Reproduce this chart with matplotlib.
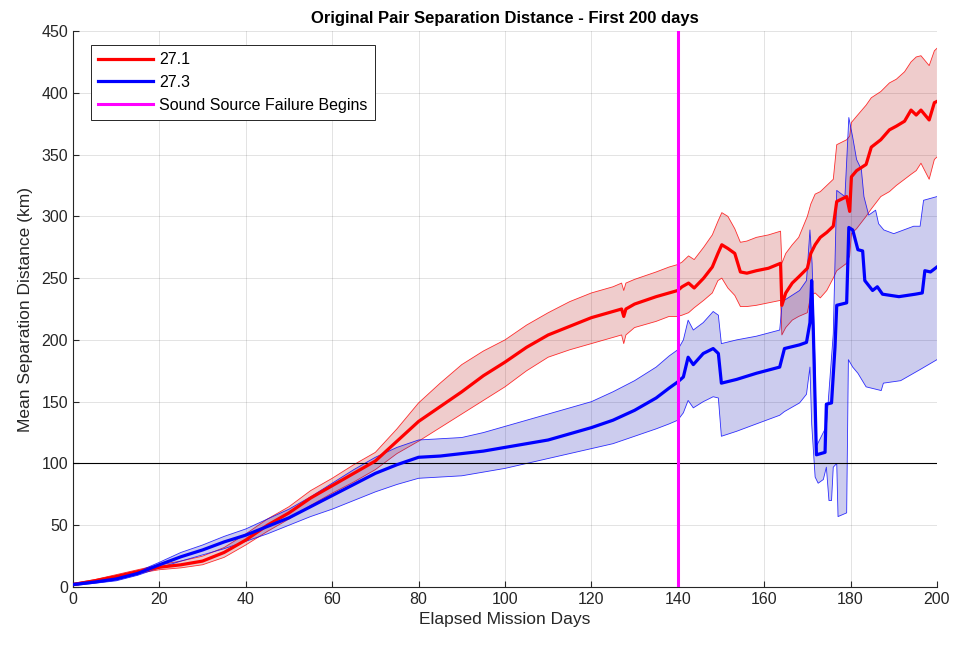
import numpy as np
import matplotlib.pyplot as plt

plt.rcParams['font.family'] = ['Liberation Sans', 'DejaVu Sans']

# float group 27.1: mean separation and spread envelope (km)
red_day = [0, 5, 10, 15, 20, 25, 30, 35, 40, 45, 50, 55, 60, 65, 70, 75, 80, 85, 90, 95,
           100, 105, 110, 115, 120, 125, 127, 127.5, 128, 130, 135, 138, 140, 141, 142.5,
           143.8, 146, 148, 149.3, 150.2, 151.6, 153.2, 154.5, 156, 158.2, 161, 163.8,
           164.1, 165, 166.5, 168, 170, 170.8, 171.8, 173, 174.5, 176, 176.8, 179.1, 179.8,
           180.2, 181.4, 183.6, 184.8, 187, 189, 190.6, 192.5, 194, 195.2, 196.3, 198.2,
           199.4, 200]
red_mean = [2, 5, 8.5, 12.5, 16, 18, 21, 28, 38, 50, 60, 72, 82, 92, 102, 118, 134, 146, 158, 171,
            182, 194, 204, 211, 218, 223, 225, 219, 225, 229, 235, 238, 240, 243, 246,
            242, 250, 259, 270, 277, 274, 270, 255, 254, 256, 258, 262,
            228, 238, 246, 251, 258, 270, 277, 283, 287, 292, 312, 316, 304,
            332, 337, 342, 356, 362, 370, 373, 377, 386, 382, 386, 378,
            392, 393]
red_lo = [1, 4, 7, 11, 14, 15.5, 18, 24, 34, 45, 55, 66, 76, 85, 95, 108, 118, 129, 140, 151,
          162, 175, 186, 192, 197, 202, 204, 197, 204, 210, 215, 219, 219, 220, 222,
          226, 232, 238, 248, 250, 242, 236, 227, 227, 228, 230, 232,
          204, 210, 216, 219, 222, 236, 238, 234, 240, 250, 256, 262, 268,
          286, 290, 300, 306, 316, 320, 325, 330, 334, 337, 343, 330,
          346, 348]
red_hi = [3, 6, 10, 14, 18, 21, 25, 32, 43, 55, 65, 78, 88, 99, 109, 128, 149, 165, 180, 191,
          200, 212, 222, 231, 238, 243, 246, 240, 246, 249, 255, 259, 261, 263, 268,
          265, 275, 285, 296, 303, 300, 290, 279, 280, 283, 285, 288,
          262, 270, 277, 283, 300, 310, 318, 320, 325, 330, 358, 362, 365,
          376, 381, 390, 396, 401, 408, 411, 417, 425, 429, 430, 422,
          434, 436]

# float group 27.3
blue_day = [0, 5, 10, 15, 20, 25, 30, 35, 40, 45, 50, 55, 60, 65, 70, 75, 80, 85, 90, 95,
            100, 105, 110, 115, 120, 125, 130, 135, 138, 140, 141.3, 142.4, 143.6, 145.9,
            148.2, 149.4, 150.1, 153.6, 158.2, 163.6, 164.7, 168.2, 169.8, 170.6, 171,
            171.4, 172.1, 174.1, 174.4, 175.6, 176.4, 176.8, 179.1, 179.6, 180.5, 181.7,
            182.8, 183.3, 185.1, 186.2, 187.4, 191.2, 195, 196.6, 197.2, 198.5, 200]
blue_mean = [2, 4, 6.5, 11, 18, 24.5, 30, 36.5, 42, 49, 56, 65, 74, 83, 92, 99, 105, 106, 108, 110,
             113, 116, 119, 124, 129, 135, 143, 153, 161, 166, 170, 186, 180, 189,
             193, 189, 165, 168, 173, 178, 193, 196, 198, 214, 248,
             205, 107, 109, 148, 149, 194, 228, 230, 291, 289, 273,
             272, 248, 240, 243, 237, 235, 237, 238, 256, 255, 259]

blue_lo_day = [0, 5, 10, 15, 20, 25, 30, 35, 40, 45, 50, 55, 60, 65, 70, 75, 80, 85, 90, 95,
               100, 105, 110, 115, 120, 125, 130, 135, 138, 140, 141.3, 142.4, 143.6, 145.9,
               148.2, 149.4, 150.1, 153.6, 158.2, 163.6, 164.7, 168.2, 169.8, 170.6, 171,
               171.8, 172.5, 173.7, 174.4, 175, 175.6, 176, 176.8, 177.1, 179.1, 179.5,
               180.5, 181.7, 183.6, 187.1, 187.6, 191.6, 196.1, 200]
blue_lo = [1, 3, 5, 9.5, 15.5, 21, 26, 31, 37, 43, 50, 57, 63, 70, 77, 83, 88, 89, 90, 93,
           96, 100, 104, 108, 112, 116, 122, 128, 132, 135, 141, 151, 145, 150,
           154, 153, 122, 126, 132, 139, 142, 149, 156, 178, 132,
           89, 84, 87, 97, 70, 70, 97, 100, 57, 60, 184,
           178, 173, 162, 159, 165, 167, 176, 184]

blue_hi_day = [0, 5, 10, 15, 20, 25, 30, 35, 40, 45, 50, 55, 60, 65, 70, 75, 80, 85, 90, 95,
               100, 105, 110, 115, 120, 125, 130, 135, 138, 140, 141.3, 142.4, 143.6, 145.9,
               148.2, 149.4, 150.1, 153.6, 158.2, 163.6, 164.2, 168.2, 169.8, 170.6, 171.1,
               171.8, 172.1, 174.4, 176, 176.8, 178.7, 179.6, 180.5, 181.4, 182.5, 183.1,
               184.2, 185.8, 186.5, 187.7, 190, 194.6, 196.1, 196.9, 200]
blue_hi = [3, 5, 8, 12.5, 20, 28, 34, 41, 47, 55, 63, 73, 84, 95, 105, 113, 119, 120, 121, 125,
           130, 135, 140, 145, 150, 158, 167, 178, 187, 192, 200, 216, 208, 214,
           223, 220, 197, 200, 203, 208, 231, 240, 248, 289, 262,
           178, 114, 130, 205, 321, 316, 380, 364, 346, 338, 316,
           301, 305, 294, 289, 286, 292, 292, 313, 316]

failure_day = 140
threshold_km = 100

fig = plt.figure(figsize=(9.55, 6.46), dpi=100)
ax = fig.add_axes([0.0764, 0.0913, 0.9047, 0.8607])

# spread envelopes, drawn as closed polygons (upper edge out, lower edge back)
ax.fill(np.r_[red_day, red_day[::-1]], np.r_[red_hi, red_lo[::-1]],
        color=(0.72, 0.1, 0.1), alpha=0.22, lw=0, zorder=2)
ax.plot(red_day, red_hi, color='red', lw=0.6, alpha=0.8, zorder=2)
ax.plot(red_day, red_lo, color='red', lw=0.6, alpha=0.8, zorder=2)

ax.fill(np.r_[blue_hi_day, blue_lo_day[::-1]], np.r_[blue_hi, blue_lo[::-1]],
        color=(0.1, 0.1, 0.7), alpha=0.22, lw=0, zorder=2)
ax.plot(blue_hi_day, blue_hi, color='blue', lw=0.6, alpha=0.8, zorder=2)
ax.plot(blue_lo_day, blue_lo, color='blue', lw=0.6, alpha=0.8, zorder=2)

ax.axhline(threshold_km, color='black', lw=0.8, zorder=3)

ax.plot(red_day, red_mean, color='red', lw=2.3, label='27.1', zorder=4)
ax.plot(blue_day, blue_mean, color='blue', lw=2.3, label='27.3', zorder=4)
ax.axvline(failure_day, color='magenta', lw=2.2, label='Sound Source Failure Begins', zorder=5)

ax.set_xlim(0, 200)
ax.set_ylim(0, 450)
ax.set_xticks(np.arange(0, 201, 20))
ax.set_yticks(np.arange(0, 451, 50))
ax.grid(True, color=(0.15, 0.15, 0.15), alpha=0.15, lw=0.6)
ax.set_axisbelow(True)
for s in ['top', 'right']:
    ax.spines[s].set_visible(False)
for s in ['left', 'bottom']:
    ax.spines[s].set_color((0.15, 0.15, 0.15))
    ax.spines[s].set_linewidth(0.8)
ax.tick_params(direction='in', length=4, labelsize=11.5, colors=(0.15, 0.15, 0.15), width=0.8)

ax.set_title('Original Pair Separation Distance - First 200 days', fontsize=12,
             fontweight='bold', pad=6)
ax.set_xlabel('Elapsed Mission Days', fontsize=12.5, color=(0.15, 0.15, 0.15), labelpad=4)
ax.set_ylabel('Mean Separation Distance (km)', fontsize=12.5, color=(0.15, 0.15, 0.15), labelpad=6)

leg = ax.legend(loc='upper left', bbox_to_anchor=(0.021, 0.975), fontsize=11.5,
                fancybox=False, framealpha=1, edgecolor=(0.15, 0.15, 0.15), handlelength=3.4,
                borderpad=0.45, labelspacing=0.5, handletextpad=0.4, borderaxespad=0)
leg.get_frame().set_linewidth(0.7)

fig.savefig('out.png', dpi=100)
